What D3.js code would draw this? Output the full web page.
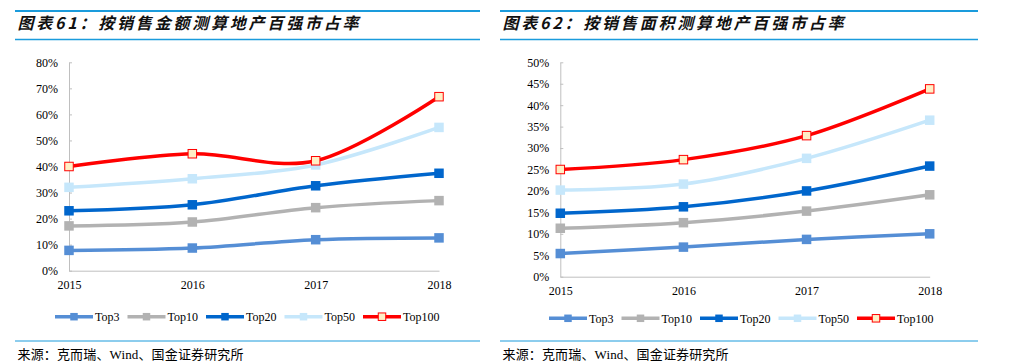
<!DOCTYPE html>
<html>
<head>
<meta charset="utf-8">
<script src="https://cdn.jsdelivr.net/npm/d3@7"></script>
<style>
  html, body { margin: 0; padding: 0; background: #fff; }
  svg { display: block; }
</style>
</head>
<body>
<svg id="chart" width="1011" height="363"></svg>
<script>
// ---------- DATA ----------
const years = ["2015", "2016", "2017", "2018"];
const seriesNames = ["Top3", "Top10", "Top20", "Top50", "Top100"];

// Chart 61: market share by sales amount (%)
const amountTop3   = [7.8, 8.7, 11.9, 12.6];
const amountTop10  = [17.2, 18.7, 24.2, 26.9];
const amountTop20  = [23.0, 25.3, 32.6, 37.4];
const amountTop50  = [32.0, 35.3, 40.6, 55.0];
const amountTop100 = [40.0, 44.9, 42.2, 66.8];
const amountTicks  = [0, 10, 20, 30, 40, 50, 60, 70, 80];

// Chart 62: market share by sales area (%)
const areaTop3   = [5.4, 6.9, 8.7, 10.0];
const areaTop10  = [11.3, 12.6, 15.3, 19.1];
const areaTop20  = [14.8, 16.3, 20.0, 25.8];
const areaTop50  = [20.2, 21.6, 27.6, 36.5];
const areaTop100 = [25.0, 27.3, 32.9, 43.8];
const areaTicks  = [0, 5, 10, 15, 20, 25, 30, 35, 40, 45, 50];

const title61 = "图表61：按销售金额测算地产百强市占率";
const title62 = "图表62：按销售面积测算地产百强市占率";
const sourceText = "来源：克而瑞、Wind、国金证券研究所";

// ---------- STYLE ----------
const colors = {
  Top3: "#558ED5",
  Top10: "#B2B2B2",
  Top20: "#0066CC",
  Top50: "#C6E7FB",
  Top100: "#FF0000"
};
const markerFill100 = "#FFEFC6";
const headerBlue = "#1A9BDC";
const serif = "'Liberation Serif', 'Times New Roman', serif";

const svg = d3.select("#chart");

function drawPanel(cfg) {
  const g = svg.append("g");

  // header rules
  g.append("line").attr("x1", cfg.left).attr("x2", cfg.right)
    .attr("y1", 11).attr("y2", 11)
    .attr("stroke", headerBlue).attr("stroke-width", 2);
  g.append("line").attr("x1", cfg.left).attr("x2", cfg.right)
    .attr("y1", 39.5).attr("y2", 39.5)
    .attr("stroke", headerBlue).attr("stroke-width", 1.5);

  // title
  g.append("text")
    .attr("x", cfg.left + 2.5).attr("y", 28.5)
    .attr("textLength", 341).attr("lengthAdjust", "spacing")
    .style("font-family", "'Noto Sans CJK SC', sans-serif")
    .style("font-weight", "bold")
    .style("font-style", "italic")
    .style("font-size", "16px")
    .attr("fill", "#111")
    .text(cfg.title);

  // scales
  const x = d3.scalePoint().domain(years).range([cfg.x0, cfg.x1]);
  const y = d3.scaleLinear().domain([0, cfg.yMax]).range([cfg.y0, cfg.y1]);

  // y axis
  const yAxis = g.append("g")
    .attr("transform", `translate(${cfg.x0},0)`)
    .call(d3.axisLeft(y).tickValues(cfg.ticks)
      .tickFormat(d => d + "%")
      .tickSizeInner(-3).tickSizeOuter(0).tickPadding(11));
  yAxis.select(".domain").attr("stroke", "#BFBFBF");
  yAxis.selectAll(".tick line").attr("stroke", "#BFBFBF");
  yAxis.selectAll("text").style("font-family", serif).style("font-size", "12px").attr("fill", "#000");

  // x axis
  const xAxis = g.append("g")
    .attr("transform", `translate(0,${cfg.y0})`)
    .call(d3.axisBottom(x).tickSize(0).tickPadding(10));
  xAxis.select(".domain").attr("stroke", "#BFBFBF");
  xAxis.selectAll("text").style("font-family", serif).style("font-size", "12px").attr("fill", "#000");

  const line = d3.line()
    .x((d, i) => x(years[i]))
    .y(d => y(d))
    .curve(d3.curveCardinal.tension(0));

  seriesNames.forEach(name => {
    const vals = cfg.data[name];
    const isRed = name === "Top100";
    g.append("path")
      .datum(vals)
      .attr("d", line)
      .attr("fill", "none")
      .attr("stroke", colors[name])
      .attr("stroke-width", 3.5)
      .attr("stroke-linejoin", "round");
    const ms = isRed ? 8.5 : 9.5;
    g.selectAll(null).data(vals).enter().append("rect")
      .attr("x", (d, i) => x(years[i]) - ms / 2)
      .attr("y", d => y(d) - ms / 2)
      .attr("width", ms).attr("height", ms)
      .attr("fill", isRed ? markerFill100 : colors[name])
      .attr("stroke", isRed ? colors[name] : "none")
      .attr("stroke-width", isRed ? 1 : 0);
  });

  // legend
  let lx = cfg.legendX;
  const ly = cfg.legendY;
  seriesNames.forEach(name => {
    const isRed = name === "Top100";
    g.append("line")
      .attr("x1", lx).attr("x2", lx + 38)
      .attr("y1", ly).attr("y2", ly)
      .attr("stroke", colors[name]).attr("stroke-width", 3.5);
    const ms = 7.5;
    g.append("rect")
      .attr("x", lx + 19 - ms / 2).attr("y", ly - ms / 2)
      .attr("width", ms).attr("height", ms)
      .attr("fill", isRed ? markerFill100 : colors[name])
      .attr("stroke", isRed ? colors[name] : "none")
      .attr("stroke-width", isRed ? 1 : 0);
    const t = g.append("text")
      .attr("x", lx + 40).attr("y", ly + 4.5)
      .style("font-family", serif).style("font-size", "12px")
      .attr("fill", "#000")
      .text(name);
    lx += 40 + t.node().getComputedTextLength() + 8;
  });

  // bottom rule
  g.append("line").attr("x1", cfg.left).attr("x2", cfg.right)
    .attr("y1", 341).attr("y2", 341)
    .attr("stroke", headerBlue).attr("stroke-width", 1);

  // source
  g.append("text")
    .attr("x", cfg.left + 2.5).attr("y", 358.5)
    .attr("textLength", 226).attr("lengthAdjust", "spacing")
    .style("font-family", "'Liberation Serif', 'Noto Sans CJK SC', serif")
    .style("font-size", "13px")
    .attr("fill", "#000")
    .text(sourceText);
}

drawPanel({
  left: 15, right: 480,
  title: title61,
  x0: 69, x1: 439, y0: 270.7, y1: 62.3, yMax: 80,
  ticks: amountTicks,
  data: { Top3: amountTop3, Top10: amountTop10, Top20: amountTop20, Top50: amountTop50, Top100: amountTop100 },
  legendX: 55, legendY: 316.7
});

drawPanel({
  left: 500, right: 978,
  title: title62,
  x0: 560.3, x1: 929.7, y0: 276.7, y1: 62.3, yMax: 50,
  ticks: areaTicks,
  data: { Top3: areaTop3, Top10: areaTop10, Top20: areaTop20, Top50: areaTop50, Top100: areaTop100 },
  legendX: 549, legendY: 318.3
});
</script>
</body>
</html>
